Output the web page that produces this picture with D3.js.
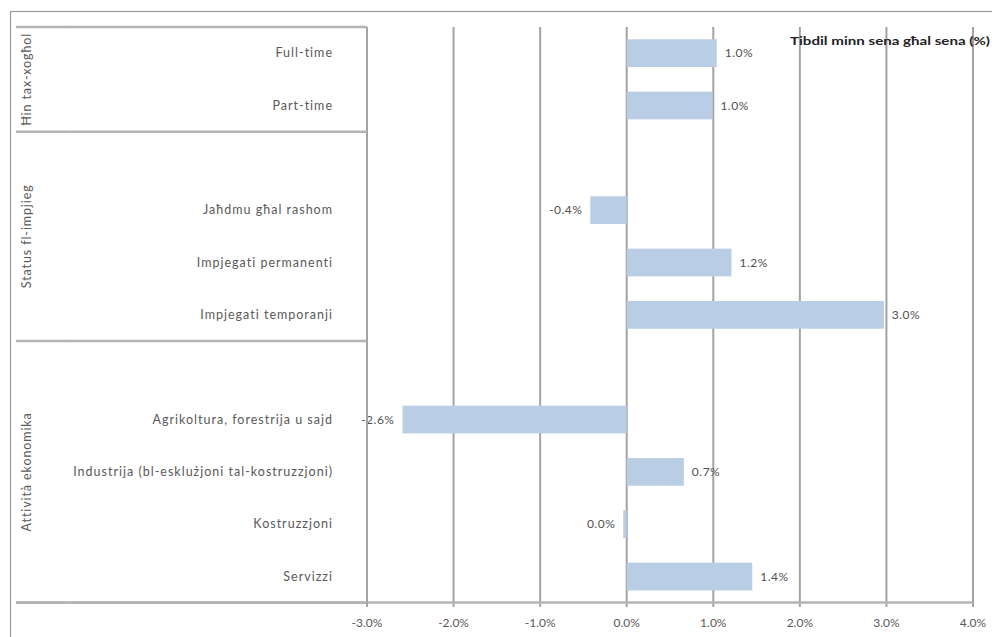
<!DOCTYPE html>
<html><head><meta charset="utf-8">
<script src="https://cdn.jsdelivr.net/npm/d3@7"></script>
<style>body{margin:0;background:#fff}svg{display:block}text{font-family:Lato,"Open Sans",sans-serif}</style>
</head><body><svg id="c" width="992" height="637"></svg>
<script>
const categories = ["Full-time","Part-time","","Jaħdmu għal rashom","Impjegati permanenti","Impjegati temporanji","","Agrikoltura, forestrija u sajd","Industrija (bl-esklużjoni tal-kostruzzjoni)","Kostruzzjoni","Servizzi"];
const values = [1.04,0.99,null,-0.42,1.21,2.97,null,-2.59,0.66,-0.04,1.45];
const groups = ["Ħin tax-xogħol","Status fl-impjieg","Attività ekonomika"];
const groupSpans = [[0,1],[2,5],[6,10]];
const ticks = [-3,-2,-1,0,1,2,3,4];
const title = "Tibdil minn sena għal sena (%)";

const svg = d3.select("#c");
const x = d3.scaleLinear().domain([-3,4]).range([367,973]);
const y = d3.scaleBand().domain(d3.range(categories.length)).range([27,602.7]).paddingInner(0.47).paddingOuter(0.235);
const slot = d3.scaleBand().domain(d3.range(categories.length)).range([27,602.7]);

// outer border
svg.append("rect").attr("x",10.5).attr("y",11.5).attr("width",1100).attr("height",800)
  .attr("fill","none").attr("stroke","#9a9a9a").attr("stroke-width",1.2);

// gridlines
svg.append("g").selectAll("line").data(ticks).join("line")
  .attr("x1",d=>x(d)).attr("x2",d=>x(d)).attr("y1",27).attr("y2",607)
  .attr("stroke","#a3a3a3").attr("stroke-width",2);

// bars
const fmt = v => (Math.abs(v)<0.05?0:v).toFixed(1)+"%";
const data = values.map((v,i)=>({v,i})).filter(d=>d.v!==null);
svg.append("g").selectAll("rect").data(data).join("rect")
  .attr("x",d=>x(Math.min(0,d.v))).attr("width",d=>Math.abs(x(d.v)-x(0)))
  .attr("y",d=>y(d.i)).attr("height",y.bandwidth())
  .attr("fill","#b9cde5");
svg.append("g").selectAll("text").data(data).join("text")
  .attr("x",d=>d.v>=0?x(d.v)+8:x(d.v)-8)
  .attr("y",d=>y(d.i)+y.bandwidth()/2+4)
  .attr("text-anchor",d=>d.v>=0?"start":"end")
  .attr("font-size",12).attr("letter-spacing",0.5).attr("fill","#505050").text(d=>fmt(d.v));

// x axis
svg.append("line").attr("x1",16).attr("x2",973).attr("y1",602.5).attr("y2",602.5)
  .attr("stroke","#b3b3b3").attr("stroke-width",2.5);
svg.append("g").selectAll("text").data(ticks).join("text")
  .attr("x",d=>x(d)).attr("y",627).attr("text-anchor","middle")
  .attr("font-size",12).attr("fill","#595959").text(d=>d.toFixed(1)+"%");

// category axis
svg.append("line").attr("x1",367).attr("x2",367).attr("y1",27).attr("y2",607)
  .attr("stroke","#a3a3a3").attr("stroke-width",2);
const gb = [27, ...groupSpans.map(s=>slot(s[1])+slot.bandwidth())];
svg.append("g").selectAll("line").data(gb).join("line")
  .attr("x1",16).attr("x2",367).attr("y1",d=>d).attr("y2",d=>d)
  .attr("stroke","#b3b3b3").attr("stroke-width",2.5);
svg.append("g").selectAll("line").data(gb).join("line")
  .attr("x1",70).attr("x2",70).attr("y1",d=>d-1.5).attr("y2",d=>d+1.5)
  .attr("stroke","#c8c8c8").attr("stroke-width",1);
svg.append("g").selectAll("text").data(categories.map((c,i)=>({c,i})).filter(d=>d.c)).join("text")
  .attr("x",333).attr("y",d=>slot(d.i)+slot.bandwidth()/2+4)
  .attr("text-anchor","end").attr("font-size",12.5).attr("letter-spacing",1).attr("fill","#595959").text(d=>d.c);
svg.append("g").selectAll("text").data(groups).join("text")
  .attr("transform",(g,i)=>{const cy=(slot(groupSpans[i][0])+slot(groupSpans[i][1])+slot.bandwidth())/2;return `translate(31,${cy}) rotate(-90)`;})
  .attr("text-anchor","middle").attr("font-size",12.5).attr("letter-spacing",0.9).attr("fill","#595959").text(d=>d);

// title
svg.append("text").attr("x",790).attr("y",45).attr("font-size",11.5).attr("font-weight","bold")
  .attr("fill","#222").attr("textLength",200).attr("lengthAdjust","spacingAndGlyphs").text(title);
</script></body></html>
